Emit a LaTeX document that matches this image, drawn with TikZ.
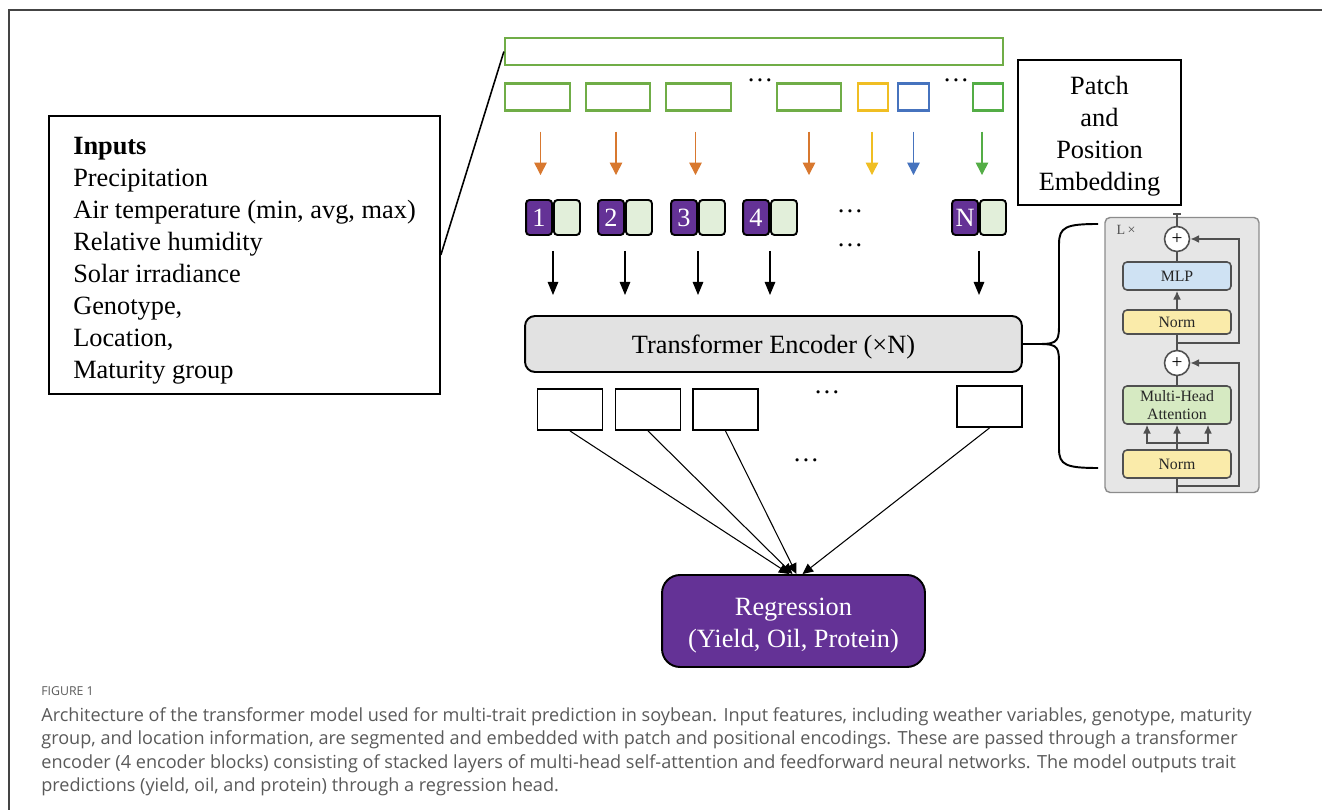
\documentclass[tikz,border=0pt]{standalone}
\usepackage{fontspec}
\setmainfont{Liberation Serif}
\newfontfamily\capfont{Open Sans}
\usetikzlibrary{arrows.meta}
\definecolor{barGreen}{HTML}{70AD47}
\definecolor{lastGreen}{HTML}{54AD46}
\definecolor{arrOrange}{HTML}{D8782F}
\definecolor{patchYellow}{HTML}{F0BE23}
\definecolor{patchBlue}{HTML}{4673BE}
\definecolor{tokPurple}{HTML}{643296}
\definecolor{tokGreen}{HTML}{E2EFDA}
\definecolor{encGray}{HTML}{E2E2E2}
\definecolor{blkFill}{HTML}{E6E6E6}
\definecolor{blkEdge}{HTML}{8C8C8C}
\definecolor{innerEdge}{HTML}{505050}
\definecolor{mlpBlue}{HTML}{CFE2F3}
\definecolor{normYellow}{HTML}{FAEBAA}
\definecolor{mhaGreen}{HTML}{D6EAC2}
\definecolor{capGray}{HTML}{5A5A5A}
\definecolor{frameGray}{HTML}{444444}

\begin{document}
\begin{tikzpicture}[x=0.02cm, y=-0.02cm,
  every node/.style={font=\fontsize{15}{18.2}\selectfont},
  patchbox/.style={draw=#1, line width=1.3pt, minimum height=0.54cm, inner sep=0},
  parrow/.style={draw=#1, line width=0.8pt, -{Triangle[length=7pt,width=7pt]}, shorten <=0.4cm, shorten >=0.48cm},
  darrow/.style={line width=0.8pt, -{Triangle[length=7.5pt,width=6pt]}, shorten <=0.3cm, shorten >=0.4cm},
  oarrow/.style={line width=0.6pt, -{Triangle[length=6pt,width=5.5pt]}},
  tokid/.style={draw, line width=1.1pt, rounded corners=2pt, fill=tokPurple, text=white, minimum width=0.52cm, minimum height=0.7cm, inner sep=0},
  tokemb/.style={draw, line width=1.1pt, rounded corners=2pt, fill=tokGreen, minimum width=0.52cm, minimum height=0.7cm, inner sep=0},
  outbox/.style={draw, line width=1.1pt, minimum width=1.3cm, minimum height=0.82cm, inner sep=0},
  blkin/.style={draw=innerEdge, line width=0.9pt, rounded corners=0.08cm, minimum width=2.16cm, inner sep=0, font=\fontsize{9}{10}\selectfont, text=black!85, align=center},
  addnode/.style={circle, draw=innerEdge, line width=0.9pt, fill=white, minimum size=0.5cm, inner sep=0, font=\fontsize{11}{11}\selectfont},
  blkline/.style={draw=innerEdge, line width=0.9pt},
  blkarrow/.style={blkline, -{Latex[length=5pt,width=4.5pt]}}]

\fill[white] (0,0) rectangle (1322,810);
\useasboundingbox (0,0) rectangle (1322,810);
\draw[frameGray, line width=1.2pt] (9,810) -- (9,10) -- (1322,10);

% inputs and patches
\node[draw, line width=1pt, minimum width=7.82cm, minimum height=5.56cm, align=left] (inputs) at (244.5,255)
  {\rule{0pt}{16pt}\textbf{Inputs}\\Precipitation\\Air temperature (min, avg, max)\\Relative humidity\\Solar irradiance\\Genotype,\\Location,\\Maturity group};
\node[patchbox=barGreen, minimum width=9.96cm] (bar) at (754,51.5) {};
\draw[line width=0.9pt] (inputs.east) -- (bar.west);

\foreach \n/\x/\w/\c in {p1/537.5/1.3/barGreen, p2/618/1.28/barGreen, p3/698.5/1.3/barGreen, p4/809/1.28/barGreen, py/873/0.6/patchYellow, pb/913.5/0.62/patchBlue, pg/988/0.6/lastGreen}
  \node[patchbox=\c, minimum width=\w cm] (\n) at (\x,97) {};
\node (d1) at (760,80) {\dots};
\node (d2) at (956,80) {\dots};

\node[draw, line width=1pt, minimum width=3.26cm, minimum height=2.9cm, align=center] (pe) at (1099.5,132.5)
  {\rule{0pt}{15pt}Patch\\and\\Position\\Embedding};

% encoder and tokens
\node[draw, line width=1.1pt, rounded corners=0.2cm, fill=encGray, minimum width=9.94cm, minimum height=1.12cm, text height=13.8pt] (enc) at (773.5,344)
  {Transformer Encoder (×N)};

\foreach \i/\x in {1/553,2/625,3/698,4/770,N/979}
{
  \node[tokid, anchor=east] (tn\i) at (\x,217.5) {\i};
  \node[tokemb, anchor=west] (te\i) at (\x,217.5) {};
  \draw[darrow] (tn\i.south east) -- (tn\i.south east |- enc.north);
}
\node (d3) at (850,211) {\dots};
\node (d4) at (850,245) {\dots};

\foreach \n/\c/\s in {p1/arrOrange/3, p2/arrOrange/-2, p3/arrOrange/-3, p4/arrOrange/0, py/patchYellow/-1, pb/patchBlue/0, pg/lastGreen/-6}
  \draw[parrow=\c] ([xshift=\s*0.02cm]\n.south) -- ([xshift=\s*0.02cm]\n.south |- tn1.north);

% outputs and regression head
\foreach \n/\x/\y in {o1/570/409.5, o2/648/409.5, o3/725.5/409.5, oN/989.5/406.5}
  \node[outbox] (\n) at (\x,\y) {};
\node (d5) at (827,392) {\dots};
\node (d6) at (806,460) {\dots};

\node[draw, line width=1.1pt, rounded corners=0.36cm, fill=tokPurple, text=white, minimum width=5.26cm, minimum height=1.84cm, align=center] (reg) at (793.5,621)
  {\rule{0pt}{15pt}Regression\\(Yield, Oil, Protein)};
\foreach \n/\s in {o1/-4, o2/-1, o3/3, oN/9}
  \draw[oarrow] (\n.south) -- ([xshift=\s*0.02cm]reg.north);

% brace to the encoder block
\coordinate (btip) at (1040,344);
\coordinate (btop) at (1098,224);
\coordinate (bbot) at (1098,468);
\draw[line width=1.1pt] (enc.east) -- (btip) .. controls (1059,344) and (1059,340) .. (1059,322) -- (1059,244) .. controls (1059,227) and (1066,224) .. (btop);
\draw[line width=1.1pt] (btip) .. controls (1059,344) and (1059,348) .. (1059,366) -- (1059,449) .. controls (1059,465) and (1066,468) .. (bbot);

% encoder block
\node[draw=blkEdge, fill=blkFill, rounded corners=0.1cm, line width=0.8pt, minimum width=3.08cm, minimum height=5.5cm] (blk) at (1182,355) {};
\node[font=\fontsize{8}{9}\selectfont, text=innerEdge] (lx) at (1126,230) {L\,×};
\node[blkin, fill=mlpBlue, minimum height=0.56cm] (mlp) at (1177,276) {MLP};
\node[blkin, fill=normYellow, minimum height=0.48cm] (nrm2) at (1177,322) {Norm};
\node[blkin, fill=mhaGreen, minimum height=0.76cm] (mha) at (1177,405) {Multi-Head\\Attention};
\node[blkin, fill=normYellow, minimum height=0.56cm] (nrm1) at (1177,464) {Norm};
\node[addnode] (add1) at (1177,239) {+};
\node[addnode] (add2) at (1177,363) {+};

\coordinate (res1) at (1177,486);
\coordinate (rr1) at (1239,486);
\coordinate (res2) at (1177,343);
\coordinate (rr2) at (1239,343);
\coordinate (fan) at (1177,443);
\coordinate (top) at (1177,214);

\draw[blkline] (nrm1.south |- blk.south) -- (nrm1.south);
\draw[blkline] (nrm1.north) -- (fan);
\foreach \s in {-0.6,0,0.62}
  \draw[blkarrow] (fan) -| ([xshift=\s cm]mha.south);
\draw[blkline] (mha.north) -- (add2.south);
\draw[blkline] (add2.north) -- (nrm2.south);
\draw[blkarrow] (nrm2.north) -- (mlp.south);
\draw[blkline] (mlp.north) -- (add1.south);
\draw[blkline] (add1.north) -- (top);
\draw[blkline] ([xshift=-0.08cm]top) -- ([xshift=0.08cm]top);
\draw[blkarrow] (res1) -- (rr1) |- (add2.east);
\draw[blkarrow] (res2) -- (rr2) |- (add1.east);

% caption
\node[anchor=base west, inner sep=0, font=\capfont\fontsize{7}{9}\selectfont, text=capGray] (fig) at (41,695) {FIGURE 1};
\node[anchor=north west, inner sep=0, align=left, font=\capfont\fontsize{10.3}{13.4}\selectfont, text=capGray] (cap) at (41,707)
  {Architecture of the transformer model used for multi-trait prediction in soybean. Input features, including weather variables, genotype, maturity\\
   group, and location information, are segmented and embedded with patch and positional encodings. These are passed through a transformer\\
   encoder (4 encoder blocks) consisting of stacked layers of multi-head self-attention and feedforward neural networks. The model outputs trait\\
   predictions (yield, oil, and protein) through a regression head.};
\end{tikzpicture}
\end{document}
